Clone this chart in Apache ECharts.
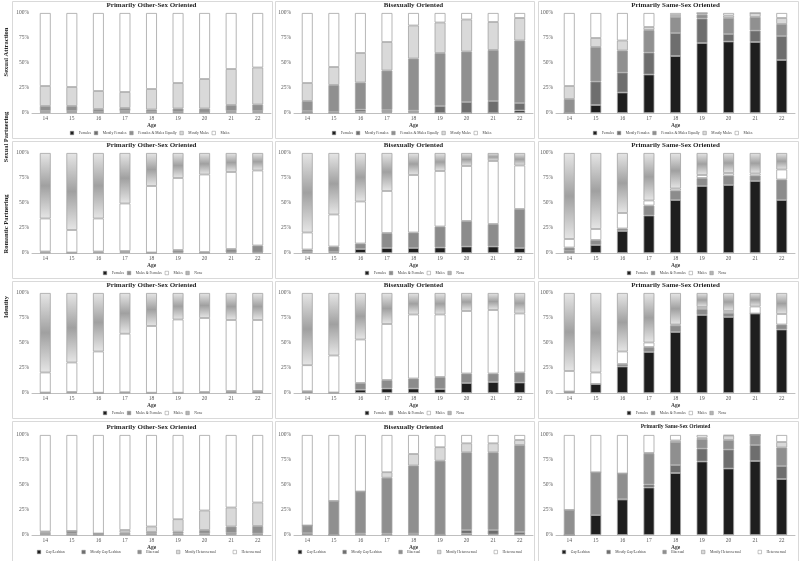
<!DOCTYPE html>
<html><head><meta charset="utf-8">
<script src="https://cdn.jsdelivr.net/npm/echarts@6/dist/echarts.min.js"></script>
<style>html,body{margin:0;padding:0;background:#fff}#c{width:800px;height:561px}</style>
</head><body><div id="c"></div>
<script>
// ---------- DATA ----------
const ages = ['14','15','16','17','18','19','20','21','22'];
const yTicks = [0, 25, 50, 75, 100];

const rowLabels = ['Sexual Attraction', 'Sexual Partnering', 'Romantic Partnering', 'Identity'];
const colTitles = ['Primarily Other-Sex Oriented', 'Bisexually Oriented', 'Primarily Same-Sex Oriented'];

const attrNames = ['Females', 'Mostly Females', 'Females & Males Equally', 'Mostly Males', 'Males'];
const partNames = ['Females', 'Males & Females', 'Males', 'None'];
const labelNames = ['Gay/Lesbian', 'Mostly Gay/Lesbian', 'Bisexual', 'Mostly Heterosexual', 'Heterosexual'];

// Sexual attraction (rows: Females, Mostly Females, Females & Males Equally, Mostly Males, Males)
const attrOther = [
  [1, 1, 0.5, 1, 0.5, 0.5, 0, 1, 1],
  [1, 1, 0.5, 1, 0.5, 0.5, 0.5, 1, 1],
  [5, 5, 3, 3, 2.5, 3.5, 4, 6, 6.5],
  [20, 19, 18, 16, 20.5, 25.5, 29.5, 36, 37],
  [73, 74, 78, 79, 76, 70, 66, 56, 54.5]
];
const attrBi = [
  [0, 0, 1, 1, 1, 0, 0, 0, 2.5],
  [2, 1, 2.5, 2, 1.5, 7, 11, 12, 7.5],
  [10, 27, 27, 39.5, 52, 53, 50.5, 51, 62.5],
  [18, 18, 29.5, 28.5, 33, 30.5, 32, 28, 22.5],
  [70, 54, 40, 29, 12.5, 9.5, 6.5, 9, 5]
];
const attrSame = [
  [0, 8, 20.5, 38.5, 57, 70, 71.5, 71, 53],
  [0, 23.5, 20, 22, 23, 24.5, 7.5, 11.5, 24],
  [14, 34.5, 22, 22.5, 16, 4, 16, 13.5, 12],
  [13, 9, 10, 3, 2, 1.5, 2.5, 4, 6],
  [73, 25, 27.5, 14, 2, 0, 2.5, 0, 5]
];

// Romantic partnering (rows: Females, Males & Females, Males, None)
const romOther = [
  [0.5, 0, 0.5, 1, 0, 0.5, 0, 0.5, 0.5],
  [1, 0.5, 1, 1, 0.5, 2.5, 1, 3.5, 7],
  [33, 22.5, 33, 47.5, 66.5, 72, 77.5, 77, 75],
  [65.5, 77, 65.5, 50.5, 33, 25, 21.5, 19, 17.5]
];
const romBi = [
  [1, 1, 4, 5, 5, 5.5, 6.5, 6.5, 5],
  [2.5, 5.5, 5.5, 15, 15.5, 21, 25.5, 22.5, 39],
  [17, 32, 42, 42, 57.5, 55.5, 55, 63, 43.5],
  [79.5, 61.5, 48.5, 38, 22, 18, 13, 8, 12.5]
];
const romSame = [
  [2, 8, 22, 37.5, 53, 67, 68, 72, 53],
  [3.5, 5, 2.5, 10, 9.5, 8, 9.5, 5.5, 20.5],
  [8.5, 11, 15.5, 5, 2, 3, 2.5, 2, 10],
  [86, 76, 60, 47.5, 35.5, 22, 20, 20.5, 16.5]
];

// Identity (rows: Females, Males & Females, Males, None)
const idOther = [
  [0, 0.5, 0, 0.3, 0, 0, 0.5, 1.5, 1.5],
  [0.5, 0.5, 0.3, 0.5, 0.3, 0.3, 0.5, 0.5, 0.5],
  [20, 29.5, 41.2, 58.5, 66.7, 73.2, 74, 71, 71],
  [79.5, 69.5, 58.5, 40.7, 33, 26.5, 25, 27, 27]
];
const idBi = [
  [1.5, 0, 3.3, 4.5, 4.5, 4, 10, 11, 10.5],
  [0.3, 0.5, 6.7, 8.5, 10, 12, 9.5, 8.5, 10],
  [26, 37, 43.5, 56, 64, 62.5, 62.5, 63.5, 59],
  [72.2, 62.5, 46.5, 31, 21.5, 21.5, 18, 17, 20.5]
];
const idSame = [
  [1.5, 9, 26.5, 41, 61, 78, 76, 79.5, 63.5],
  [0, 0, 2.5, 5, 6.5, 6, 4, 0, 5],
  [20.5, 11.5, 12.5, 4.5, 1, 2, 2, 7, 10.5],
  [78, 79.5, 58.5, 49.5, 31.5, 14, 18, 13.5, 21]
];

// Identity labels (rows: Gay/Lesbian, Mostly Gay/Lesbian, Bisexual, Mostly Heterosexual, Heterosexual)
const labOther = [
  [1, 0, 0, 0.5, 0.5, 0.3, 0.5, 0.5, 0.5],
  [0.5, 1, 0.5, 0.5, 1, 1, 1, 1.5, 1],
  [1, 3, 1, 1.5, 1.5, 2, 3.5, 6.5, 7.5],
  [1, 0, 0, 2.5, 5.5, 12.5, 19.5, 19, 23.5],
  [96.5, 96, 98.5, 95, 91.5, 84.2, 75.5, 72.5, 67.5]
];
const labBi = [
  [1.5, 0, 0.5, 0.3, 1, 0, 1.3, 0.5, 0.3],
  [0.5, 0, 1, 1, 0.5, 0.3, 3.7, 4.5, 2.7],
  [7.5, 34, 42, 56, 68, 74, 77.7, 77.7, 87],
  [0, 0, 0, 5.5, 11.5, 13.5, 9, 9, 5],
  [90.5, 66, 56.5, 37.2, 19, 12.2, 8.3, 8.3, 5]
];
const labSame = [
  [0, 20, 35.5, 47.5, 62, 73.5, 66.5, 74, 56],
  [0, 0, 0.5, 3, 8, 13, 19, 16, 13],
  [25, 42.7, 25.5, 31, 23, 9.5, 9.5, 10, 18.5],
  [0, 0, 0, 0.5, 1.5, 1.5, 4.5, 0, 5.5],
  [75, 37.3, 38.5, 18, 5.5, 2.5, 0.5, 0, 7]
];

// ---------- STYLE ----------
const FONT = '"Liberation Serif", "Times New Roman", serif';
const noneFill = {type: 'linear', x: 0, y: 0, x2: 0, y2: 1, colorStops: [
  {offset: 0, color: '#e6e6e6'}, {offset: 0.5, color: '#a0a0a0'}, {offset: 1, color: '#e6e6e6'}]};
const colorMap = {
  'Females': '#1e1e1e', 'Mostly Females': '#6e6e6e', 'Females & Males Equally': '#909090',
  'Mostly Males': '#d9d9d9', 'Males': '#ffffff', 'Males & Females': '#8c8c8c', 'None': noneFill,
  'Gay/Lesbian': '#1e1e1e', 'Mostly Gay/Lesbian': '#6e6e6e', 'Bisexual': '#8f8f8f',
  'Mostly Heterosexual': '#d9d9d9', 'Heterosexual': '#ffffff'
};
const legendIconColor = Object.assign({}, colorMap, {'None': '#b5b5b5'});

const rowsData = [
  {names: attrNames, panels: [attrOther, attrBi, attrSame], legendLeft: [70, 332, 593], gap: 3},
  {names: partNames, panels: [romOther, romBi, romSame], legendLeft: [103, 365, 627], gap: 3},
  {names: partNames, panels: [idOther, idBi, idSame], legendLeft: [103, 365, 627], gap: 3},
  {names: labelNames, panels: [labOther, labBi, labSame], legendLeft: [37, 298, 562], gap: 17}
];

// ---------- LAYOUT ----------
const colLeft = [32, 294, 556];
const plotW = 239;
const rowTop = [13, 153, 293, 435];
const plotH = 100;
const panelX = [[12, 272], [275, 534], [538, 798]];
const panelY = [[1, 138], [141, 278], [281, 418], [421, 561]];
const rowLabelY = [52, 137, 224, 307];

const grid = [], xAxis = [], yAxis = [], series = [], legend = [], graphic = [];
let gi = 0;
rowsData.forEach((row, r) => {
  row.panels.forEach((pdata, c) => {
    grid.push({left: colLeft[c], top: rowTop[r], width: plotW, height: plotH, containLabel: false});
    xAxis.push({
      type: 'category', gridIndex: gi, data: ages,
      name: 'Age', nameLocation: 'middle', nameGap: r === 3 ? 9 : 10,
      nameTextStyle: {fontFamily: FONT, fontSize: 5.5, fontWeight: 'bold', color: '#404040'},
      axisLine: {lineStyle: {color: '#bfbfbf', width: 1}},
      axisTick: {show: false},
      axisLabel: {fontFamily: FONT, fontSize: 5.5, color: '#595959', margin: 3}
    });
    yAxis.push({
      type: 'value', gridIndex: gi, min: 0, max: 100, interval: 25,
      axisLine: {show: false}, axisTick: {show: false}, splitLine: {show: false},
      axisLabel: {fontFamily: FONT, fontSize: 5.5, color: '#595959', margin: 3,
        formatter: v => yTicks.includes(v) ? v + '%' : ''}
    });
    row.names.forEach((nm, k) => {
      series.push({
        type: 'bar', name: nm, xAxisIndex: gi, yAxisIndex: gi, stack: 'p' + gi,
        data: pdata[k], barWidth: '41%',
        itemStyle: {color: colorMap[nm], borderColor: '#a3a3a3', borderWidth: 0.8},
        emphasis: {disabled: true}
      });
    });
    legend.push({
      data: row.names.map(nm => ({name: nm, icon: 'rect',
        itemStyle: {color: legendIconColor[nm], borderColor: '#8a8a8a', borderWidth: 0.5}})),
      left: row.legendLeft[c],
      top: r === 3 ? 550 : rowTop[r] + plotH + 18,
      itemWidth: 3.5, itemHeight: 3.5, itemGap: row.gap, padding: 0,
      textStyle: {fontFamily: FONT, fontSize: 3.7, color: '#404040'},
      selectedMode: false
    });
    graphic.push({type: 'rect', z: -1, silent: true,
      shape: {x: panelX[c][0] + 0.5, y: panelY[r][0] + 0.5, width: panelX[c][1] - panelX[c][0], height: panelY[r][1] - panelY[r][0]},
      style: {fill: null, stroke: '#d9d9d9', lineWidth: 1}});
    graphic.push({type: 'text', silent: true, x: colLeft[c] + plotW / 2, y: rowTop[r] - 8,
      style: {text: colTitles[c], fill: '#262626', textAlign: 'center', textVerticalAlign: 'middle',
        font: 'bold ' + ((r === 3 && c === 2) ? 5.5 : 7) + 'px ' + FONT}});
    gi++;
  });
});
rowLabels.forEach((t, r) => {
  graphic.push({type: 'text', silent: true, x: 6, y: rowLabelY[r], rotation: Math.PI / 2,
    style: {text: t, fill: '#262626', textAlign: 'center', textVerticalAlign: 'middle',
      font: 'bold 6.5px ' + FONT}});
});

const chart = echarts.init(document.getElementById('c'), null, {renderer: 'canvas'});
chart.setOption({
  animation: false, backgroundColor: '#ffffff',
  grid, xAxis, yAxis, series, legend, graphic
});
</script>
</body></html>
